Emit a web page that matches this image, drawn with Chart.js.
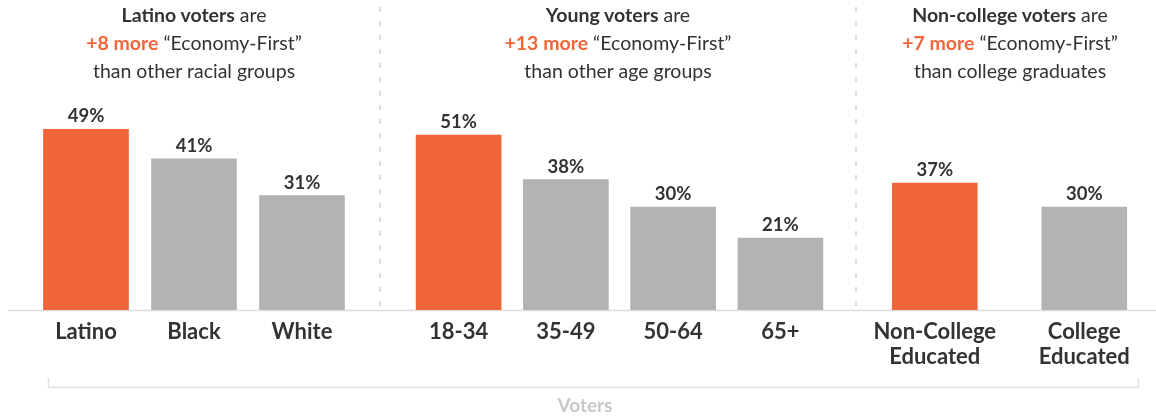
<!DOCTYPE html>
<html>
<head>
<meta charset="utf-8">
<script src="https://cdn.jsdelivr.net/npm/chart.js@4.4.0/dist/chart.umd.min.js"></script>
<style>
  html, body { margin: 0; padding: 0; background: #fff; overflow: hidden; }
  body { width: 1156px; height: 417px; position: relative; font-family: Lato, sans-serif; color: #333; }
  .title { position: absolute; top: 1px; width: 360px; text-align: center; font-size: 19.5px; line-height: 28px; }
  .title b { font-weight: 700; }
  .title .hl { color: #F26539; font-weight: 700; }
  canvas.chart { position: absolute; top: 95px; }
  #guides { position: absolute; left: 0; top: 0; }
  #voters { position: absolute; left: 525px; width: 120px; top: 393px; text-align: center; font-weight: 700; font-size: 19px; color: #c8c8c8; }
</style>
</head>
<body>
<canvas id="guides" width="1156" height="417"></canvas>

<div class="title" style="left:14px"><b>Latino voters</b> are<br><span class="hl">+8 more</span> “Economy-First”<br>than other racial groups</div>
<div class="title" style="left:438px"><b>Young voters</b> are<br><span class="hl">+13 more</span> “Economy-First”<br>than other age groups</div>
<div class="title" style="left:830px"><b>Non-college voters</b> are<br><span class="hl">+7 more</span> “Economy-First”<br>than college graduates</div>

<canvas class="chart" id="raceChart" width="324" height="280" style="left:32px"></canvas>
<canvas class="chart" id="ageChart" width="429" height="280" style="left:405px"></canvas>
<canvas class="chart" id="eduChart" width="299" height="280" style="left:860px"></canvas>

<div id="voters">Voters</div>

<script>
// data
const raceLabels = ['Latino', 'Black', 'White'];
const raceValues = [49, 41, 31];
const ageLabels = ['18-34', '35-49', '50-64', '65+'];
const ageValues = [51, 38, 30, 21];
const eduLabels = [['Non-College', 'Educated'], ['College', 'Educated']];
const eduValues = [37, 30];

const ORANGE = '#F2643A';
const GREY = '#B3B3B3';
const TEXT = '#333333';

// percent labels above each bar
const valueLabels = {
  id: 'valueLabels',
  afterDatasetsDraw(chart) {
    const ctx = chart.ctx;
    const values = chart.data.datasets[0].data;
    ctx.save();
    ctx.font = '700 18.5px Lato';
    ctx.fillStyle = TEXT;
    ctx.textAlign = 'center';
    ctx.textBaseline = 'middle';
    chart.getDatasetMeta(0).data.forEach((bar, i) => {
      ctx.fillText(values[i] + '%', bar.x, bar.y - 13);
    });
    ctx.restore();
  }
};

function makeChart(id, labels, values, yMax) {
  const ctx = document.getElementById(id).getContext('2d');
  return new Chart(ctx, {
    type: 'bar',
    data: {
      labels: labels,
      datasets: [{
        data: values,
        backgroundColor: values.map((v, i) => i === 0 ? ORANGE : GREY),
        borderWidth: 0,
        barThickness: 85
      }]
    },
    options: {
      responsive: false,
      animation: false,
      layout: { padding: 0 },
      plugins: { legend: { display: false }, tooltip: { enabled: false } },
      scales: {
        x: {
          grid: { display: false, drawTicks: false },
          border: { display: false },
          ticks: {
            color: TEXT,
            font: { family: 'Lato', size: 22, weight: '700', lineHeight: 1.14 },
            padding: 9,
            maxRotation: 0,
            autoSkip: false
          },
          afterFit: (axis) => { axis.height = 65; }
        },
        y: { display: false, min: 0, max: yMax }
      }
    },
    plugins: [valueLabels]
  });
}

makeChart('raceChart', raceLabels, raceValues, 58.3);
makeChart('ageChart', ageLabels, ageValues, 62.7);
makeChart('eduChart', eduLabels, eduValues, 62.7);

// separators, baseline, bracket
const g = document.getElementById('guides').getContext('2d');
g.strokeStyle = '#d2d2d2';
g.lineWidth = 1.5;
g.setLineDash([5, 9]);
[380, 856].forEach(x => {
  g.beginPath();
  g.moveTo(x, 7);
  g.lineTo(x, 310);
  g.stroke();
});
g.setLineDash([]);
g.strokeStyle = '#dddddd';
g.beginPath();
g.moveTo(8, 310.5);
g.lineTo(1156, 310.5);
g.stroke();
g.strokeStyle = '#e2e2e2';
g.beginPath();
g.moveTo(48.5, 378);
g.lineTo(48.5, 387.5);
g.lineTo(1138.5, 387.5);
g.lineTo(1138.5, 378);
g.stroke();
</script>
</body>
</html>
